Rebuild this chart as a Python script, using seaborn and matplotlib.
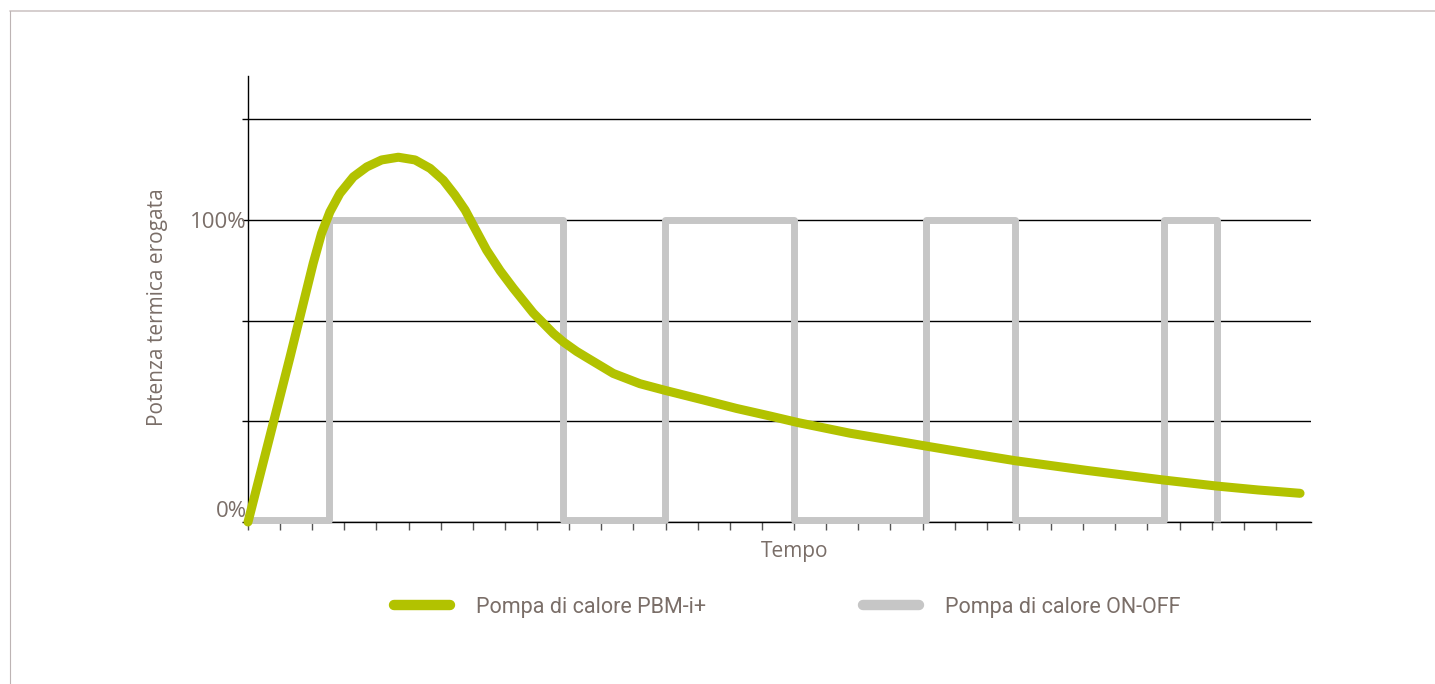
import matplotlib
matplotlib.use("Agg")
import matplotlib.pyplot as plt
from matplotlib.lines import Line2D
import pandas as pd
import seaborn as sns

# Heat output over time (x in tick units, y in % of nominal output)
inverter_time = [0.0, 0.66, 1.31, 1.67, 2.03, 2.29, 2.55, 2.86, 3.28, 3.70, 4.16,
                 4.68, 5.20, 5.67, 6.08, 6.44, 6.76, 7.01, 7.43, 7.85, 8.26,
                 8.88, 9.51, 9.82, 10.23, 10.54, 11.37, 12.20, 12.98, 14.18, 15.21,
                 16.25, 17.13, 18.74, 20.30, 21.13, 22.37, 23.88, 26.10, 28.50, 30.16,
                 31.45, 32.75]
inverter_power = [0.0, 27.5, 54.7, 70.2, 85.7, 95.6, 102.7, 108.8, 114.3, 117.6, 119.9,
                  120.8, 119.9, 117.1, 113.2, 108.3, 103.3, 98.3, 90.0, 83.2, 77.4,
                  69.2, 62.4, 59.6, 56.5, 54.5, 49.2, 45.8, 43.6, 40.4, 37.6,
                  35.1, 32.9, 29.4, 26.6, 25.1, 22.9, 20.3, 17.1, 13.9, 11.9,
                  10.6, 9.5]

onoff_time = [0.1, 2.53, 2.53, 9.82, 9.82, 12.98, 12.98, 17.0, 17.0, 21.1, 21.1,
              23.88, 23.88, 28.5, 28.5, 30.16, 30.16]
onoff_power = [0.7, 0.7, 100, 100, 0.7, 0.7, 100, 100, 0.7, 0.7, 100,
               100, 0.7, 0.7, 100, 100, 0.0]

series_labels = ["Pompa di calore PBM-i+", "Pompa di calore ON-OFF"]
y_ticks = [0, 100 / 3, 200 / 3, 100, 400 / 3]
y_tick_labels = ["0%", "", "", "100%", ""]
x_ticks = list(range(33))

GREEN = "#b2c200"
GREY = "#c6c6c6"
TEXT = "#7a6e68"

sns.set_style("white")
plt.rcParams["font.family"] = ["Open Sans", "DejaVu Sans"]

fig = plt.figure(figsize=(14.35, 6.84), dpi=100)
ax = fig.add_axes([248 / 1435, 1 - 522 / 684, (1311 - 248) / 1435, (522 - 76) / 684])

df_inv = pd.DataFrame({"t": inverter_time, "p": inverter_power})
df_onoff = pd.DataFrame({"t": onoff_time, "p": onoff_power})

sns.lineplot(data=df_onoff, x="t", y="p", ax=ax, sort=False, estimator=None,
             color=GREY, linewidth=5.0, solid_joinstyle="round",
             solid_capstyle="butt", clip_on=False, zorder=3,
             label=series_labels[1], legend=False)
sns.lineplot(data=df_inv, x="t", y="p", ax=ax, sort=False, estimator=None,
             color=GREEN, linewidth=6.5, solid_joinstyle="round",
             solid_capstyle="round", clip_on=False, zorder=4,
             label=series_labels[0], legend=False)

ax.set_xlim(0, 33.09)
ax.set_ylim(0, 147.7)

ax.set_xticks(x_ticks)
ax.set_xticklabels([])
ax.set_yticks(y_ticks)
ax.set_yticklabels(y_tick_labels)
ax.tick_params(axis="x", direction="out", length=6, width=1, color="#555555", bottom=True)
ax.tick_params(axis="y", direction="out", length=4, width=1, color="black", left=True,
               labelsize=16, labelcolor=TEXT, pad=-3)
for lbl in ax.get_yticklabels():
    if lbl.get_text() == "0%":
        lbl.set_va("bottom")

ax.grid(axis="y", color="black", linewidth=1.0)
ax.grid(axis="x", visible=False)
ax.set_axisbelow(True)

for side in ("top", "right"):
    ax.spines[side].set_visible(False)
for side in ("left", "bottom"):
    ax.spines[side].set_color("black")
    ax.spines[side].set_linewidth(1.0)

ax.set_xlabel("Tempo", fontsize=15, color=TEXT)
ax.set_ylabel("Potenza termica erogata", fontsize=15, color=TEXT)
ax.xaxis.set_label_coords((795 - 248) / 1063, (522 - 551) / 446)
ax.yaxis.set_label_coords((157 - 248) / 1063, (522 - 307) / 446)
ax.xaxis.label.set_va("center")
ax.yaxis.label.set_va("center")

handles = [Line2D([0], [0], color=GREEN, linewidth=7.5, solid_capstyle="round"),
           Line2D([0], [0], color=GREY, linewidth=7.5, solid_capstyle="round")]
leg = fig.legend(handles, series_labels, loc="center", ncol=2,
                 bbox_to_anchor=(787 / 1435, 1 - 607 / 684), frameon=False,
                 prop={"family": ["Roboto", "DejaVu Sans"], "size": 15.5},
                 handlelength=2.6, handletextpad=1.2, columnspacing=7.3)
for txt in leg.get_texts():
    txt.set_color(TEXT)

# thin frame around the panel
fig.add_artist(Line2D([10 / 1435, 1], [1 - 10.5 / 684, 1 - 10.5 / 684],
                      transform=fig.transFigure, color="#d2caca", linewidth=1.3))
fig.add_artist(Line2D([10 / 1435, 10 / 1435], [0, 1 - 10.5 / 684],
                      transform=fig.transFigure, color="#bdb4b4", linewidth=0.8))

fig.savefig("out.png", dpi=100)
